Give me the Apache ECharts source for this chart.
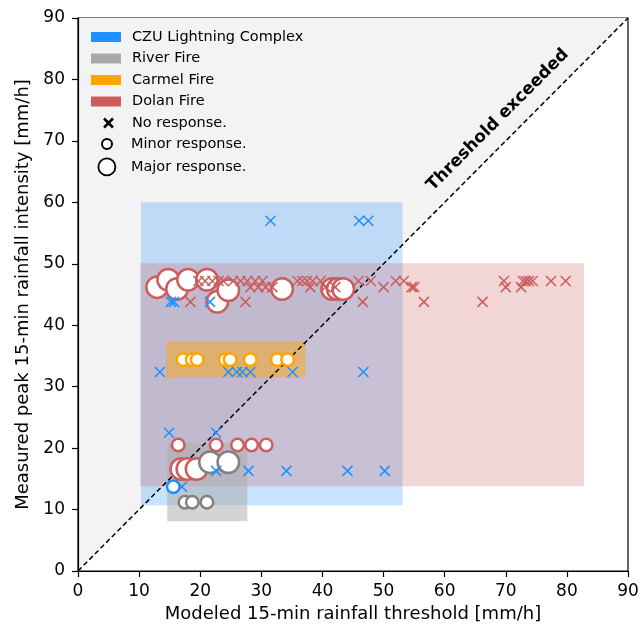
<!DOCTYPE html>
<html>
<head>
<meta charset="utf-8">
<script src="https://cdn.jsdelivr.net/npm/echarts@6/dist/echarts.min.js"></script>
<style>
html, body { margin: 0; padding: 0; background: #fff; }
#chart { width: 643px; height: 624px; }
</style>
</head>
<body>
<div id="chart"></div>
<script>
// 火灾名称 / 颜色
var fireNames = ['CZU Lightning Complex', 'River Fire', 'Carmel Fire', 'Dolan Fire'];
var fireColors = ['#1e90ff', '#a9a9a9', '#ffa500', '#cd5c5c'];
var markColors = ['#1e90ff', '#808080', '#ffa500', '#cd5c5c'];
var boxAlpha = [0.25, 0.5, 0.45, 0.25];

// 阈值范围框 [x0, y0, x1, y1]
var czuBox = [10.3, 10.7, 53.1, 60];
var riverBox = [14.6, 8.1, 27.7, 20.8];
var carmelBox = [14.4, 31.4, 37.2, 37.4];
var dolanBox = [10.2, 13.8, 82.8, 50.1];

// CZU
var czuNone = [[31.5, 57], [46, 57], [47.5, 57], [15.2, 43.8], [15.7, 43.8], [21.6, 43.8],
  [13.4, 32.4], [24.6, 32.4], [26.0, 32.4], [26.9, 32.4], [28.2, 32.4], [35.1, 32.4], [46.7, 32.4],
  [14.9, 22.5], [22.6, 22.5], [22.6, 16.3], [27.9, 16.3], [34.1, 16.3], [44.1, 16.3], [50.2, 16.3],
  [17.0, 13.7]];
var czuMinor = [[15.6, 13.7]];
var czuMajor = [];

// River
var riverNone = [];
var riverMinor = [[17.5, 11.2], [18.7, 11.2], [21.1, 11.2]];
var riverMajor = [[21.6, 17.7], [24.6, 17.7]];

// Carmel
var carmelNone = [];
var carmelMinor = [[17.2, 34.4], [18.7, 34.4], [19.5, 34.4], [24.1, 34.4], [24.9, 34.4],
  [28.2, 34.4], [32.6, 34.4], [34.3, 34.4]];
var carmelMajor = [];

// Dolan
var dolanNone = [[19.7, 47.2], [20.8, 47.2], [22.0, 47.2], [23.0, 47.2], [23.8, 47.2], [25.4, 47.2],
  [26.6, 47.2], [27.7, 47.2], [29.0, 47.2], [30.2, 47.2], [35.9, 47.2], [36.7, 47.2], [37.5, 47.2],
  [38.4, 47.2], [39.7, 47.2], [45.9, 47.2], [47.9, 47.2], [52.0, 47.2], [53.3, 47.2], [69.7, 47.2],
  [72.8, 47.2], [73.3, 47.2], [73.8, 47.2], [74.4, 47.2], [77.4, 47.2], [79.8, 47.2],
  [28.2, 46.2], [29.5, 46.2], [30.7, 46.2], [31.8, 46.2], [38.0, 46.2], [40.5, 46.2], [42.1, 46.2],
  [50.0, 46.2], [54.6, 46.2], [55.0, 46.2], [70.0, 46.2], [72.5, 46.2],
  [18.4, 43.8], [27.4, 43.8], [46.6, 43.8], [56.6, 43.8], [66.2, 43.8]];
var dolanMinor = [[16.4, 20.5], [22.6, 20.5], [26.1, 20.5], [28.4, 20.5], [30.8, 20.5]];
var dolanMajor = [[12.95, 46.2], [14.75, 47.4], [16.2, 45.9], [18.0, 47.4], [21.1, 47.4],
  [22.8, 43.8], [24.6, 45.7], [33.4, 45.9], [41.6, 45.9], [42.5, 45.9], [43.4, 45.9],
  [16.9, 16.6], [17.9, 16.6], [19.4, 16.6]];

var diagonal = [[0, 0], [90, 90]];
var labelAt = [68.7, 73.4];

var xPath = 'path://M0,0L10,10M10,0L0,10';
var font = 'DejaVu Sans';

function fade(hex, a) {
    var r = parseInt(hex.slice(1, 3), 16), g = parseInt(hex.slice(3, 5), 16), b = parseInt(hex.slice(5, 7), 16);
    return 'rgba(' + r + ',' + g + ',' + b + ',' + a + ')';
}

function withColor(list, color) {
    return list.map(function (p) {
        return { value: p, itemStyle: { borderColor: color } };
    });
}

function boxSeries(i, box, z) {
    var fill = fade(fireColors[i], boxAlpha[i]);
    return {
        name: fireNames[i],
        type: 'custom',
        z: z,
        silent: true,
        itemStyle: { color: fireColors[i] },
        encode: { x: [0, 2], y: [1, 3] },
        data: [box],
        renderItem: function (params, api) {
            var p0 = api.coord([api.value(0), api.value(3)]);
            var p1 = api.coord([api.value(2), api.value(1)]);
            return {
                type: 'rect',
                shape: { x: p0[0], y: p0[1], width: p1[0] - p0[0], height: p1[1] - p0[1] },
                style: { fill: fill }
            };
        }
    };
}

var noneData = [].concat(withColor(czuNone, markColors[0]), withColor(riverNone, markColors[1]),
    withColor(carmelNone, markColors[2]), withColor(dolanNone, markColors[3]));
var minorData = [].concat(withColor(czuMinor, markColors[0]), withColor(dolanMinor, markColors[3]),
    withColor(carmelMinor, markColors[2]), withColor(riverMinor, markColors[1]));
var majorData = [].concat(withColor(czuMajor, markColors[0]), withColor(dolanMajor, markColors[3]),
    withColor(carmelMajor, markColors[2]), withColor(riverMajor, markColors[1]));

var chart = echarts.init(document.getElementById('chart'));

var legendText = { color: '#000', fontSize: 14.5, fontFamily: font, lineHeight: 15 };

var option = {
    animation: false,
    backgroundColor: '#fff',
    grid: {
        left: 78, right: 15, top: 18, bottom: 53, outerBoundsMode: 'none', containLabel: false,
        show: true, borderColor: '#000', borderWidth: 1.2
    },
    legend: [{
        orient: 'vertical', left: 91, top: 29.5, padding: 0, itemGap: 6.5,
        itemWidth: 30, itemHeight: 10, selectedMode: false,
        textStyle: Object.assign({ padding: [0, 0, 0, 6] }, legendText),
        data: fireNames.map(function (n, i) {
            return { name: n, icon: 'rect', itemStyle: { color: fireColors[i], borderWidth: 0 } };
        })
    }, {
        left: 101.5, top: 115.5, padding: 0, itemWidth: 9, itemHeight: 9, selectedMode: false,
        textStyle: Object.assign({ padding: [0, 0, 0, 14] }, legendText),
        data: [{ name: 'No response.', icon: xPath, itemStyle: { color: 'none', borderColor: '#000', borderWidth: 2.5 } }]
    }, {
        left: 101, top: 136.5, padding: 0, itemWidth: 10, itemHeight: 10, selectedMode: false,
        textStyle: Object.assign({ padding: [0, 0, 0, 14] }, legendText),
        data: [{ name: 'Minor response.', icon: 'circle', itemStyle: { color: '#fff', borderColor: '#000', borderWidth: 2 } }]
    }, {
        left: 97.5, top: 157.5, padding: 0, itemWidth: 17, itemHeight: 17, selectedMode: false,
        textStyle: Object.assign({ padding: [0, 0, 0, 10.5] }, legendText),
        data: [{ name: 'Major response.', icon: 'circle', itemStyle: { color: '#fff', borderColor: '#000', borderWidth: 1.8 } }]
    }],
    xAxis: {
        type: 'value', min: 0, max: 90, interval: 10,
        name: 'Modeled 15-min rainfall threshold [mm/h]', nameLocation: 'middle', nameGap: 32,
        nameTextStyle: { color: '#000', fontSize: 18, fontFamily: font },
        axisLine: { lineStyle: { color: '#000', width: 1.2 } },
        axisTick: { length: 6, lineStyle: { color: '#000', width: 1.2 } },
        axisLabel: { color: '#000', fontSize: 17, fontFamily: font, margin: 12 },
        splitLine: { show: false }
    },
    yAxis: {
        type: 'value', min: 0, max: 90, interval: 10,
        name: 'Measured peak 15-min rainfall intensity [mm/h]', nameLocation: 'middle', nameGap: 40,
        nameTextStyle: { color: '#000', fontSize: 18, fontFamily: font },
        axisLine: { lineStyle: { color: '#000', width: 1.2 } },
        axisTick: { length: 6, lineStyle: { color: '#000', width: 1.2 } },
        axisLabel: { color: '#000', fontSize: 17, fontFamily: font, margin: 13 },
        splitLine: { show: false }
    },
    series: [
        {
            type: 'line', z: 0, silent: true, symbol: 'none', data: diagonal,
            lineStyle: { width: 0 },
            areaStyle: { color: '#f3f3f3', opacity: 1, origin: 'end' }
        },
        boxSeries(0, czuBox, 1),
        boxSeries(3, dolanBox, 2),
        boxSeries(2, carmelBox, 3),
        boxSeries(1, riverBox, 4),
        {
            type: 'line', z: 5, silent: true, symbol: 'none', data: diagonal,
            lineStyle: { color: '#000', width: 1.5, type: [5, 3] }
        },
        {
            name: 'Minor response.', type: 'scatter', z: 6, symbol: 'circle', symbolSize: 12.5,
            itemStyle: { color: '#fff', borderWidth: 2.5, opacity: 1 },
            data: minorData
        },
        {
            name: 'Major response.', type: 'scatter', z: 6, symbol: 'circle', symbolSize: 21.5,
            itemStyle: { color: '#fff', borderWidth: 2.5, opacity: 1 },
            data: majorData
        },
        {
            name: 'No response.', type: 'scatter', z: 7, symbol: xPath, symbolSize: 10,
            itemStyle: { color: 'none', borderWidth: 1.5, opacity: 1 },
            data: noneData
        }
    ]
};

chart.setOption(option);

// 对角线上方的文字
var pos = chart.convertToPixel({ gridIndex: 0 }, labelAt);
chart.setOption({
    graphic: [{
        type: 'text', x: pos[0], y: pos[1], rotation: Math.PI / 4, z: 10,
        style: {
            text: 'Threshold exceeded', fill: '#000',
            font: 'bold 17px "DejaVu Sans"', textAlign: 'center', textVerticalAlign: 'middle'
        }
    }]
});
</script>
</body>
</html>
